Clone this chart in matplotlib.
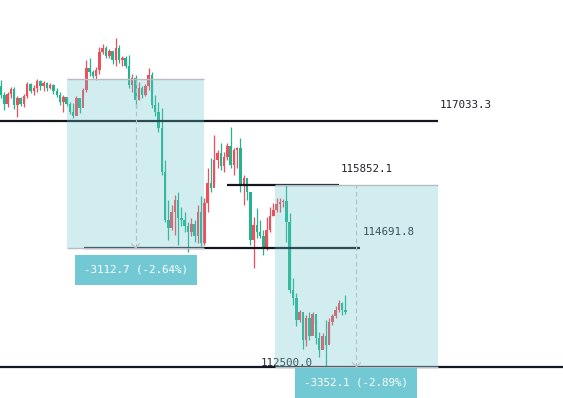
import numpy as np
from matplotlib import pyplot as plt
from matplotlib.patches import Rectangle

# candle data (open of each bar = previous close)
first_open = 117679
closes = [117513, 117347, 117532, 117624, 117329, 117458, 117347, 117495, 117716, 117587,
          117642, 117772, 117679, 117735, 117642, 117698, 117587, 117513, 117384, 117476,
          117347, 117200, 117126, 117458, 117273, 117606, 118011, 117938, 117864, 117975,
          118307, 118380, 118233, 118325, 118159, 118380, 118159, 118196, 118048, 117698,
          117827, 117421, 117642, 117513, 117679, 117882, 117329, 117200, 116904, 116093,
          115207, 115059, 115355, 115576, 115244, 115207, 115096, 114986, 115133, 114912,
          115355, 114783, 115521, 115890, 115797, 116314, 116443, 116203, 116369, 116572,
          116222, 116499, 116535, 115853, 115982, 115724, 114838, 115115, 114986, 114912,
          114690, 115023, 115281, 115392, 115502, 115539, 115558, 115170, 113916, 113768,
          113362, 113510, 112993, 113399, 113067, 113473, 113030, 112809, 113067, 112901,
          113325, 113436, 113547, 113676, 113547, 113510]
highs = [117790, 117569, 117569, 117661, 117661, 117495, 117476, 117532, 117753, 117735,
         117698, 117808, 117790, 117772, 117753, 117735, 117716, 117642, 117569, 117513,
         117476, 117384, 117366, 117495, 117439, 117642, 118159, 118196, 117975, 118030,
         118399, 118454, 118417, 118362, 118307, 118565, 118436, 118233, 118233, 118251,
         117901, 117882, 117753, 117679, 117716, 118011, 117938, 117513, 117384, 117273,
         116314, 115576, 115484, 115668, 115724, 115447, 115355, 115170, 115244, 115207,
         115484, 115650, 115613, 116166, 116351, 116775, 116499, 116628, 116462, 116628,
         116923, 116535, 116554, 116720, 116037, 115797, 115724, 115262, 115428, 115207,
         115023, 115262, 115447, 115521, 115613, 115613, 115594, 115853, 115336, 114137,
         113860, 113547, 113454, 113454, 113510, 113510, 113362, 113141, 113122, 113362,
         113399, 113473, 113620, 113731, 113694, 113823]
lows = [117458, 117237, 117292, 117458, 117255, 117107, 117310, 117292, 117458, 117550,
        117513, 117569, 117606, 117587, 117587, 117624, 117532, 117476, 117329, 117200,
        117310, 117163, 117089, 117273, 117181, 117513, 117569, 117864, 117827, 117790,
        117901, 118270, 118196, 118196, 118085, 118048, 118104, 118048, 118011, 117642,
        117569, 117273, 117421, 117458, 117495, 117606, 117273, 117126, 116831, 116037,
        115170, 114838, 115023, 114930, 114746, 115096, 114986, 114617, 114912, 114801,
        114783, 114727, 114746, 115355, 115724, 115890, 116166, 116130, 116093, 116314,
        116166, 116037, 116166, 115724, 115484, 115576, 114746, 114321, 114875, 114875,
        114561, 114654, 114986, 115281, 115355, 115355, 115447, 114801, 113860, 113639,
        113251, 113325, 112827, 112882, 112993, 113307, 112919, 112679, 112845, 112513,
        112938, 113270, 113399, 113510, 113454, 113473]

# horizontal levels
levels = [117033.3, 115852.1, 114691.8, 112500.0]
level_spans = [(-0.3, 133.2), (68.9, 103.0), (25.3, 109.5), (-0.3, 172.0)]

# price range boxes: (x start, x end, top, bottom)
ranges = [(20.1, 61.9, 117804.5, 114691.8), (83.5, 133.2, 115852.1, 112500.0)]
label_gap = [8, 2]   # pixels between range bottom and its label box

red = '#ef4f5a'
green = '#22b48e'

fig = plt.figure(figsize=(5.63, 3.98), dpi=100)
ax = fig.add_axes([0, 0, 1, 1])
ax.set_xlim(-0.3, 171.3)
ax.set_ylim(111923, 119266)
ax.axis('off')

px_x = 171.6 / 563   # one pixel in x units
px_y = 7343 / 398    # one pixel in price units

opens = [first_open] + closes[:-1]
for i in range(len(closes)):
    o, c, h, l = opens[i], closes[i], highs[i], lows[i]
    col = red if c > o else green
    ax.vlines(i, l, h, color=col, linewidth=0.9, zorder=2)
    ax.add_patch(Rectangle((i - 0.38, min(o, c)), 0.76, max(abs(c - o), px_y),
                           facecolor=col, edgecolor='none', zorder=2))

# level lines and their labels
for lvl, (x0, x1) in zip(levels, level_spans):
    ax.hlines(lvl, x0, x1, color='#131722', linewidth=1.6, zorder=3)
for lvl, (x0, x1) in zip(levels[:3], level_spans[:3]):
    ax.annotate(f'{lvl:.1f}', (x1, lvl), xytext=(2, 11), textcoords='offset pixels',
                fontsize=7.8, family='DejaVu Sans Mono', color='#1e222d', va='bottom')
ax.text(79.3, levels[3] - 1 * px_y, f'{levels[3]:.1f}', fontsize=7.8,
        family='DejaVu Sans Mono', color='#2a2e39', va='bottom', zorder=1)

# price range boxes
for (x0, x1, top, bot), gap in zip(ranges, label_gap):
    ax.add_patch(Rectangle((x0, bot), x1 - x0, top - bot, facecolor='#69c6cd',
                           alpha=0.3, edgecolor='none', zorder=4))
    ax.hlines([top, bot], x0, x1, color='#b8bcc4', linewidth=1.0, zorder=4)
    xm = (x0 + x1) / 2
    ax.vlines(xm, bot, top, color='#b8bcc4', linewidth=0.8, linestyles=(0, (4, 3)), zorder=4)
    ax.plot([xm - 4 * px_x, xm, xm + 4 * px_x], [bot + 4 * px_y, bot, bot + 4 * px_y],
            color='#b8bcc4', linewidth=0.8, zorder=4)
    diff = bot - top
    txt = f'{diff:.1f} ({diff / top * 100:.2f}%)'
    bw = 122 * px_x
    by = bot - gap * px_y
    ax.add_patch(Rectangle((xm - bw / 2, by - 29 * px_y), bw, 30 * px_y,
                           facecolor='#72c9d3', edgecolor='none', zorder=6))
    ax.text(xm, by - 14 * px_y, txt, ha='center', va='center', color='white',
            fontsize=7.8, family='DejaVu Sans Mono', zorder=7)

fig.savefig('out.png', dpi=100)
